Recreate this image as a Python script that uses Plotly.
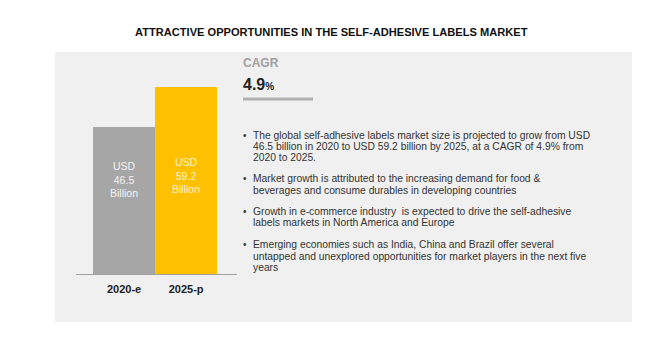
import plotly.graph_objects as go

W, H = 666, 361

categories = ["2020-e", "2025-p"]
values = [46.5, 59.2]
bar_labels = ["USD<br>46.5<br>Billion", "USD<br>59.2<br>Billion"]
bar_colors = ["#a6a6a6", "#ffc000"]
label_colors = ["#f4f4f4", "#fff4cc"]

title = "ATTRACTIVE OPPORTUNITIES IN THE SELF-ADHESIVE LABELS MARKET"
cagr_label = "CAGR"
cagr_value = "4.9"
bullets = [
    ["The global self-adhesive labels market size is projected to grow from USD",
     "46.5 billion in 2020 to USD 59.2 billion by 2025, at a CAGR of 4.9% from",
     "2020 to 2025."],
    ["Market growth is attributed to the increasing demand for food &",
     "beverages and consume durables in developing countries"],
    ["Growth in e-commerce industry  is expected to drive the self-adhesive",
     "labels markets in North America and Europe"],
    ["Emerging economies such as India, China and Brazil offer several",
     "untapped and unexplored opportunities for market players in the next five",
     "years"],
]
bullet_tops = [135, 179, 211, 245]


def px(x):
    return x / W


def py(y):
    return 1 - y / H


fig = go.Figure()
fig.add_trace(go.Bar(
    x=categories, y=values, marker=dict(color=bar_colors, line=dict(width=0)),
    width=1.0, hoverinfo="skip",
))

# bar labels, placed in the lower-middle of the bars as in the original
for i, (cat, lab, col) in enumerate(zip(categories, bar_labels, label_colors)):
    fig.add_annotation(x=cat, y=29.8 + 1.5 * i, xref="x", yref="y", text=lab,
                       showarrow=False, align="center",
                       font=dict(color=col, size=10.5, family="Liberation Sans"))

fig.update_layout(
    width=W, height=H, margin=dict(l=0, r=0, t=0, b=0),
    paper_bgcolor="white", plot_bgcolor="rgba(0,0,0,0)",
    showlegend=False, bargap=0,
    xaxis=dict(domain=[px(76), px(237)], range=[-0.774, 1.82],
               showline=True, linecolor="#a0a0a0", linewidth=1,
               showgrid=False, zeroline=False, ticks="",
               tickvals=categories, ticktext=["<b>" + c + "</b>" for c in categories],
               tickfont=dict(size=11, color="#222", family="Liberation Sans"),
               ticklabelstandoff=5),
    yaxis=dict(domain=[py(274), py(87)], range=[0, 59.2], visible=False),
)

fig.add_shape(type="rect", xref="paper", yref="paper",
              x0=px(55), x1=px(632), y0=py(322), y1=py(52),
              fillcolor="#f0f0f0", line=dict(width=0), layer="below")
fig.add_shape(type="line", xref="paper", yref="paper",
              x0=px(243), x1=px(313), y0=py(99), y1=py(99),
              line=dict(color="#b0b0b0", width=3))

fig.add_annotation(text="<b>" + title + "</b>", xref="paper", yref="paper",
                   x=px(331), y=py(32), showarrow=False, xanchor="center", yanchor="middle",
                   font=dict(size=11.1, color="#111", family="Liberation Sans"))
fig.add_annotation(text="<b>" + cagr_label + "</b>", xref="paper", yref="paper",
                   x=px(241), y=py(63), showarrow=False, xanchor="left", yanchor="middle",
                   font=dict(size=12, color="#a0a0a0", family="Liberation Sans"))
fig.add_annotation(text="<b>" + cagr_value + "</b><span style='font-size:10px'><b>%</b></span>",
                   xref="paper", yref="paper",
                   x=px(241), y=py(84), showarrow=False, xanchor="left", yanchor="middle",
                   font=dict(size=16, color="#222", family="Liberation Sans"))

for lines, top in zip(bullets, bullet_tops):
    fig.add_annotation(text="•", xref="paper", yref="paper",
                       x=px(241), y=py(top), showarrow=False, xanchor="left", yanchor="middle",
                       font=dict(size=10, color="#333", family="Liberation Sans"))
    for i, line in enumerate(lines):
        fig.add_annotation(text=line, xref="paper", yref="paper",
                           x=px(251), y=py(top + i * 11.2), showarrow=False,
                           xanchor="left", yanchor="middle",
                           font=dict(size=10.3, color="#333", family="Liberation Sans"))

fig.write_html("out.html", config={"displayModeBar": False},
               post_script="document.body.style.margin='0';document.body.style.padding='0';")
